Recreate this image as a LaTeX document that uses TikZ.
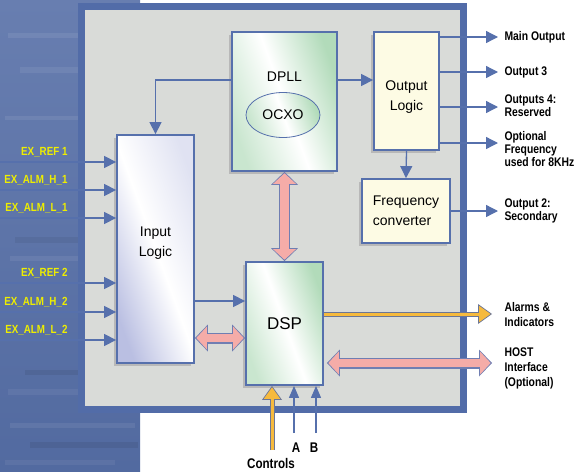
\documentclass[tikz,border=0pt]{standalone}
\usepackage{fontspec}
\setmainfont{Liberation Sans}
\newfontfamily\strettofont[FakeStretch=0.83]{Liberation Sans}
\usetikzlibrary{arrows.meta,shadows,shapes.geometric}

\definecolor{sfondoblu}{RGB}{82,106,160}
\definecolor{sfondochiaro}{RGB}{104,126,176}
\definecolor{cornice}{RGB}{82,108,168}
\definecolor{grigino}{RGB}{217,219,216}
\definecolor{bordo}{RGB}{86,112,172}
\definecolor{lavanda}{RGB}{186,191,226}
\definecolor{verdino}{RGB}{178,219,186}
\definecolor{crema}{RGB}{253,251,228}
\definecolor{rosa}{RGB}{245,172,168}
\definecolor{rosabordo}{RGB}{112,126,178}
\definecolor{arancio}{RGB}{246,186,62}
\definecolor{arancioscuro}{RGB}{108,118,150}
\definecolor{giallo}{RGB}{238,238,0}

\begin{document}
\begin{tikzpicture}[x=1pt, y=-1pt, font=\fontsize{14}{20}\selectfont,
    blocco/.style={draw=bordo, line width=1.8pt, inner sep=0pt, align=center,
        drop shadow={shadow xshift=-3pt, shadow yshift=-3pt, fill=black!28, opacity=1}},
    lilla/.style={left color=lavanda, right color=lavanda!45, middle color=white, shading angle=110},
    menta/.style={left color=verdino!70, right color=verdino, middle color=white, shading angle=110},
    testo/.style={align=center},
    freccia/.style={draw=bordo, line width=1.3pt, -{Triangle[length=12pt,width=12pt]}},
    freccina/.style={draw=bordo, line width=1.1pt, -{Triangle[length=12pt,width=10pt]}},
    rosafuori/.style={draw=rosabordo, line width=11pt,
        {Triangle[length=13pt,width=27pt,line width=0pt]}-{Triangle[length=13pt,width=27pt,line width=0pt]}},
    rosadentro/.style={draw=rosa, line width=8.6pt, shorten <=1.4pt, shorten >=1.4pt,
        {Triangle[length=10.6pt,width=23pt,line width=0pt]}-{Triangle[length=10.6pt,width=23pt,line width=0pt]}},
    aranciofuori/.style={draw=arancioscuro, line width=5pt, -{Triangle[length=14pt,width=20pt,line width=0pt]}},
    aranciodentro/.style={draw=arancio, line width=3pt, shorten >=1.5pt, -{Triangle[length=11.5pt,width=16.5pt,line width=0pt]}},
    ingresso/.style={anchor=east, text=giallo, font=\strettofont\bfseries\fontsize{11.8}{13}\selectfont},
    uscita/.style={anchor=west, align=left, font=\strettofont\bfseries\fontsize{12.5}{13}\selectfont},
    uscitabassa/.style={anchor=west, align=left, font=\strettofont\bfseries\fontsize{12.5}{15}\selectfont},
    sotto/.style={font=\strettofont\bfseries\fontsize{14}{15}\selectfont}]

    \useasboundingbox (0,0) rectangle (575,471);

    % Sfondo blu a sinistra
    \fill[top color=sfondochiaro, bottom color=sfondoblu] (0,0) rectangle (140,471);
    \draw[white, opacity=.08, line width=5pt] (8,35) -- (120,35);
    \draw[white, opacity=.07, line width=6pt] (20,70) -- (135,70);
    \draw[white, opacity=.08, line width=4pt] (5,118) -- (110,118);
    \draw[black, opacity=.06, line width=6pt] (15,240) -- (130,240);
    \draw[white, opacity=.07, line width=5pt] (10,258) -- (125,258);
    \draw[black, opacity=.07, line width=5pt] (25,372) -- (135,372);
    \draw[white, opacity=.06, line width=6pt] (8,392) -- (120,392);
    \draw[white, opacity=.07, line width=5pt] (10,425) -- (135,425);
    \draw[black, opacity=.07, line width=6pt] (30,445) -- (138,445);
    \draw[white, opacity=.06, line width=5pt] (5,462) -- (115,462);

    % Cornice del dispositivo
    \draw[draw=cornice, fill=grigino, line width=7pt] (81.5,6.5) rectangle (463.5,409.5);

    % Blocchi
    \node[blocco, lilla, minimum width=77pt, minimum height=228pt] (input) at (155.5,249) {};
    \node[testo] (inputtxt) at (155.5,243) {Input\\Logic};

    \node[blocco, menta, minimum width=105pt, minimum height=139pt] (dpll) at (284.5,101.5) {};
    \node (dplltxt) at (284.5,77) {DPLL};
    \node[ellipse, draw=bordo, line width=0.8pt, menta, minimum width=74pt, minimum height=45pt] (ocxo) at (283,115) {OCXO};

    \node[blocco, fill=crema, minimum width=65pt, minimum height=118pt] (outlog) at (406.5,91) {};
    \node[testo] (outlogtxt) at (406.5,97) {Output\\Logic};

    \node[blocco, fill=crema, align=left, minimum width=88pt, minimum height=64pt] (freq) at (406,211) {Frequency\\converter};

    \node[blocco, menta, minimum width=77pt, minimum height=123pt, font=\fontsize{17}{20}\selectfont] (dsp) at (284.5,323.5) {DSP};

    % Punti di riferimento per i collegamenti
    \coordinate (clk) at (284,80);
    \coordinate (sync) at (220,301);
    \coordinate (dati) at (220,338);
    \coordinate (e1) at (0,162);
    \coordinate (e2) at (0,190);
    \coordinate (e3) at (0,218);
    \coordinate (e4) at (0,283);
    \coordinate (e5) at (0,312);
    \coordinate (e6) at (0,340);
    \coordinate (u1) at (498,37);
    \coordinate (u2) at (498,72);
    \coordinate (u3) at (498,107);
    \coordinate (u4) at (498,143);
    \coordinate (u5) at (498,211);
    \coordinate (allarmi) at (492,314);
    \coordinate (host) at (492,363);
    \coordinate (ctrl) at (272,450);
    \coordinate (ca) at (294,433);
    \coordinate (cb) at (316,433);

    % Collegamenti interni
    \draw[freccia] (dpll.west |- clk) -| (input.north);
    \draw[freccia] (dpll.east |- clk) -- (outlog.west |- clk);
    \draw[freccia] (outlog.south) -- (freq.north);
    \draw[freccia] (input.east |- sync) -- (dsp.west |- sync);

    % Ingressi
    \draw[freccia] (e1) -- (e1 -| input.west);
    \draw[freccia] (e2) -- (e2 -| input.west);
    \draw[freccia] (e3) -- (e3 -| input.west);
    \draw[freccia] (e4) -- (e4 -| input.west);
    \draw[freccia] (e5) -- (e5 -| input.west);
    \draw[freccia] (e6) -- (e6 -| input.west);

    \node[ingresso] (n1) at (71,152) {EX\_REF 1};
    \node[ingresso] (n2) at (71,180) {EX\_ALM\_H\_1};
    \node[ingresso] (n3) at (71,208) {EX\_ALM\_L\_1};
    \node[ingresso] (n4) at (71,273) {EX\_REF 2};
    \node[ingresso] (n5) at (71,302) {EX\_ALM\_H\_2};
    \node[ingresso] (n6) at (71,330) {EX\_ALM\_L\_2};

    % Uscite
    \draw[freccia] (outlog.east |- u1) -- (u1);
    \draw[freccia] (outlog.east |- u2) -- (u2);
    \draw[freccia] (outlog.east |- u3) -- (u3);
    \draw[freccia] (outlog.east |- u4) -- (u4);
    \draw[freccia] (freq.east |- u5) -- (u5);

    \node[uscita] (m1) at (501,37) {Main Output};
    \node[uscita] (m2) at (501,72) {Output 3};
    \node[uscita] (m3) at (501,106) {Outputs 4:\\Reserved};
    \node[uscita] (m4) at (501,149) {Optional\\Frequency\\used for 8KHz};
    \node[uscita] (m5) at (501,211) {Output 2:\\Secondary};

    % Frecce larghe (bus)
    \draw[rosafuori] (dpll.south) -- (dsp.north);
    \draw[rosadentro] (dpll.south) -- (dsp.north);
    \draw[rosafuori] (input.east |- dati) -- (dsp.west |- dati);
    \draw[rosadentro] (input.east |- dati) -- (dsp.west |- dati);
    \draw[rosafuori] ([xshift=3pt]dsp.east |- host) -- (host);
    \draw[rosadentro] ([xshift=3pt]dsp.east |- host) -- (host);

    \draw[aranciofuori] (dsp.east |- allarmi) -- (allarmi);
    \draw[aranciodentro] (dsp.east |- allarmi) -- (allarmi);

    \node[uscitabassa] (m6) at (501,315) {Alarms \&\\Indicators};
    \node[uscitabassa] (m7) at (501,368) {HOST\\Interface\\(Optional)};

    % Controlli dal basso
    \draw[aranciofuori] (ctrl) -- (ctrl |- dsp.south);
    \draw[aranciodentro] (ctrl) -- (ctrl |- dsp.south);
    \draw[freccina] (ca) -- (ca |- dsp.south);
    \draw[freccina] (cb) -- (cb |- dsp.south);

    \node[sotto] (la) at (296,448) {A};
    \node[sotto] (lb) at (314,448) {B};
    \node[sotto] (lc) at (271,463) {Controls};

\end{tikzpicture}
\end{document}
